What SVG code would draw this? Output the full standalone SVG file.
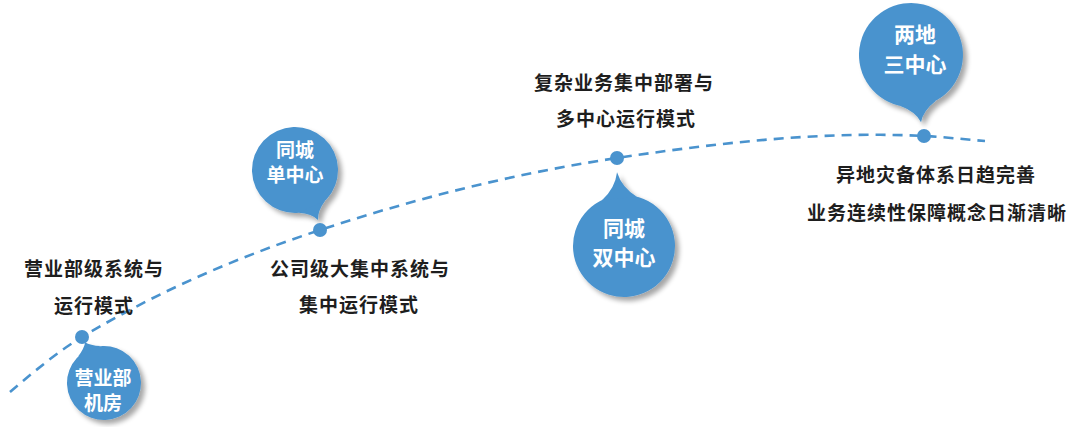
<svg xmlns="http://www.w3.org/2000/svg" width="1080" height="427" viewBox="0 0 1080 427">
<defs>
<filter id="sh" x="-30%" y="-30%" width="170%" height="170%">
<feGaussianBlur in="SourceAlpha" stdDeviation="2.5"/>
<feOffset dx="4" dy="4" result="b"/>
<feComponentTransfer><feFuncA type="linear" slope="0.35"/></feComponentTransfer>
<feMerge><feMergeNode/><feMergeNode in="SourceGraphic"/></feMerge>
</filter>
<style>
.b{fill:#4a93ce}
.bt{fill:#ffffff;font-family:"Noto Sans CJK SC",sans-serif;font-weight:bold;text-anchor:middle}
.lt{fill:#1e1e1e;font-family:"Noto Sans CJK SC",sans-serif;font-weight:bold;font-size:19px;letter-spacing:1px;text-anchor:middle}
.dot{fill:#4a93ce}
</style>
</defs>
<rect width="1080" height="427" fill="#ffffff"/>
<g id="connectors">
<path d="M10,392 C34,371.6 58,351.4 82,337 C161.3,289.4 240.7,256.2 320,230 C419,197.3 518,172.9 617,158 C719.3,142.7 821.7,130.9 924,136 C944.3,137 964.7,139.4 985,141" fill="none" stroke="#4a93ce" stroke-width="2.6" stroke-dasharray="10 7"/>
</g>
<g id="node1">
<g filter="url(#sh)"><g transform="translate(104,383) rotate(155.2)"><circle class="b" r="37"/><path class="b" d="M-12.7,34.8 Q-3,40 0,45 Q3,40 12.7,34.8 Z"/></g></g>
<circle class="dot" cx="82" cy="337" r="7"/>
<text class="bt" font-size="19" x="103" y="385">营业部</text>
<text class="bt" font-size="19" x="103" y="410">机房</text>
<text class="lt" x="94" y="276">营业部级系统与</text>
<text class="lt" x="94" y="313">运行模式</text>
</g>
<g id="node2">
<g filter="url(#sh)"><g transform="translate(295,170) rotate(-24.7)"><circle class="b" r="43"/><path class="b" d="M-14.7,40.4 Q-3,47 0,55 Q3,47 14.7,40.4 Z"/></g></g>
<circle class="dot" cx="320" cy="230" r="7"/>
<text class="bt" font-size="19" x="295" y="157">同城</text>
<text class="bt" font-size="19" x="295" y="182">单中心</text>
<text class="lt" x="360" y="276">公司级大集中系统与</text>
<text class="lt" x="359" y="312">集中运行模式</text>
</g>
<g id="node3">
<g filter="url(#sh)"><g transform="translate(624,246) rotate(174.6)"><circle class="b" r="51"/><path class="b" d="M-17.4,47.9 Q-3.5,58 0,74 Q3.5,58 17.4,47.9 Z"/></g></g>
<circle class="dot" cx="617" cy="158" r="7"/>
<text class="bt" font-size="21" x="624" y="236">同城</text>
<text class="bt" font-size="21" x="624" y="265">双中心</text>
<text class="lt" x="624" y="90">复杂业务集中部署与</text>
<text class="lt" x="626" y="126">多中心运行模式</text>
</g>
<g id="node4">
<g filter="url(#sh)"><g transform="translate(911,55) rotate(-8.5)"><circle class="b" r="52"/><path class="b" d="M-17.8,48.9 Q-3.5,57 0,68 Q3.5,57 17.8,48.9 Z"/></g></g>
<circle class="dot" cx="924" cy="136" r="7"/>
<text class="bt" font-size="21" x="915" y="42">两地</text>
<text class="bt" font-size="21" x="915" y="72">三中心</text>
<text class="lt" x="936" y="182">异地灾备体系日趋完善</text>
<text class="lt" x="937" y="220">业务连续性保障概念日渐清晰</text>
</g>
</svg>
